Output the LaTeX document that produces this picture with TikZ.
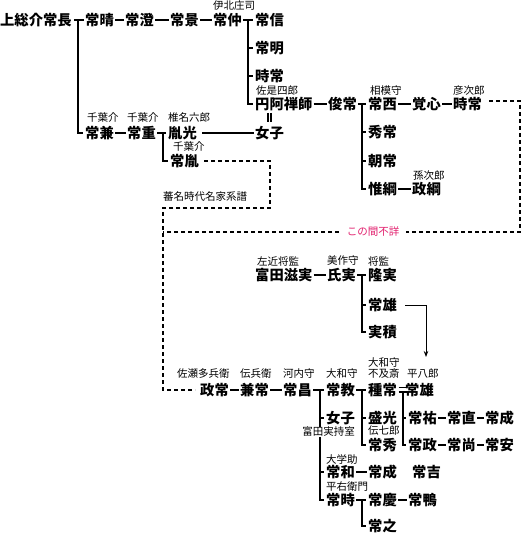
\documentclass[tikz,border=0pt]{standalone}
\usepackage{fontspec}
\newfontfamily\jp{Noto Sans CJK JP}
\usetikzlibrary{arrows.meta}
\definecolor{gappink}{RGB}{226,32,110}

\begin{document}
\begin{tikzpicture}[x=1pt, y=-1pt,
  person/.style={font=\jp\fontsize{14.3}{15}\selectfont\bfseries, inner sep=0pt, anchor=west, text height=11.9pt, text depth=1pt},
  office/.style={font=\jp\fontsize{10.5}{11}\selectfont, inner sep=0pt, anchor=west},
  link/.style={line width=2pt, shorten <=1pt, shorten >=1pt},
  bar/.style={line width=2pt},
  wed/.style={line width=1.1pt},
  gap/.style={line width=2.3pt, dash pattern=on 4pt off 3pt},
  point/.style={line width=0.8pt, -{Stealth[length=6pt, width=4.5pt]}}]
\useasboundingbox (0,0) rectangle (529,537);
% first line: Kazusa-no-suke down to Tsunenaka
\node[person] (nagatsune) at (0,20) {上総介常長};
\node[person] (tsuneharu) at (85,20) {常晴};
\node[person] (tsunesumi) at (125,20) {常澄};
\node[person] (tsunekage) at (170,20) {常景};
\node[person] (tsunenaka) at (213,20) {常仲};
\node[office] (ihoku) at (213,6) {伊北庄司};
\draw[link, shorten <=2pt] (nagatsune) -- (tsuneharu);
\draw[link] (tsuneharu) -- (tsunesumi);
\draw[link] (tsunesumi) -- (tsunekage);
\draw[link] (tsunekage) -- (tsunenaka);
% sons of Tsunenaka
\node[person] (tsunenobu) at (255,20) {常信};
\node[person] (tsuneaki) at (255,48) {常明};
\node[person] (tokitsune) at (255,76) {時常};
\node[person] (enami) at (255,104) {円阿禅師};
\node[office] (sazeshiro) at (256,91) {佐是四郎};
\draw[link, shorten >=2pt] (tsunenaka) -- (tsunenobu);
\draw[bar] ([xshift=-7pt]tsunenobu.west) |- ([xshift=-2pt]enami.west);
\draw[bar] ([xshift=-7pt]tsuneaki.west) -- ([xshift=-2pt]tsuneaki.west);
\draw[bar] ([xshift=-7pt]tokitsune.west) -- ([xshift=-2pt]tokitsune.west);
% Enami Zenji and his line
\node[person] (toshitsune) at (328,104) {俊常};
\node[person] (tsunenishi) at (368,104) {常西};
\node[office] (sagami) at (370,91) {相模守};
\node[person] (kakushin) at (412,104) {覚心};
\node[person] (tokitsuneB) at (453,104) {時常};
\node[office] (hikojiro) at (453,91) {彦次郎};
\node[person] (hidetsune) at (368,132) {秀常};
\node[person] (tomotsune) at (368,161) {朝常};
\node[person] (koretsuna) at (368,189) {惟綱};
\node[person] (masatsuna) at (412,189) {政綱};
\node[office] (magojiro) at (413,176) {孫次郎};
\draw[link] (enami) -- (toshitsune);
\draw[link, shorten >=2pt] (toshitsune) -- (tsunenishi);
\draw[bar] ([xshift=-6pt]tsunenishi.west) |- ([xshift=-2pt]koretsuna.west);
\draw[bar] ([xshift=-6pt]hidetsune.west) -- ([xshift=-2pt]hidetsune.west);
\draw[bar] ([xshift=-6pt]tomotsune.west) -- ([xshift=-2pt]tomotsune.west);
\draw[link] (tsunenishi) -- (kakushin);
\draw[link] (kakushin) -- (tokitsuneB);
\draw[link] (koretsuna) -- (masatsuna);
% Chiba line
\node[person] (tsunekane) at (85,133) {常兼};
\node[office] (chibaA) at (87,118) {千葉介};
\node[person] (tsuneshige) at (127,133) {常重};
\node[office] (chibaB) at (127,118) {千葉介};
\node[person] (tanemitsu) at (168,133) {胤光};
\node[office] (shiina) at (168,118) {椎名六郎};
\node[person] (tsunetane) at (170,161) {常胤};
\node[office] (chibaC) at (173,147) {千葉介};
\node[person] (joshiA) at (255,133) {女子};
\draw[bar] ([xshift=-7pt]tsuneharu.west) |- ([xshift=-2pt]tsunekane.west);
\draw[link] (tsunekane) -- (tsuneshige);
\draw[link, shorten >=2pt] (tsuneshige) -- (tanemitsu);
\draw[bar] ([xshift=-5pt]tanemitsu.west) |- ([xshift=-2pt]tsunetane.west);
\draw[link, shorten <=5pt] (tanemitsu) -- (joshiA);
% marriage mark
\draw[wed] (268,113) -- (268,122) (271,113) -- (271,122);
% Tomita line
\node[person] (tomita) at (255,275) {富田滋実};
\node[office] (sakon) at (257,261) {左近将監};
\node[person] (ujizane) at (327,275) {氏実};
\node[office] (mimasaka) at (327,261) {美作守};
\node[person] (takazane) at (368,275) {隆実};
\node[office] (shogen) at (368,261) {将監};
\node[person] (tsuneoA) at (368,305) {常雄};
\node[person] (sanetsumi) at (368,332) {実積};
\draw[link] (tomita) -- (ujizane);
\draw[link, shorten >=2pt] (ujizane) -- (takazane);
\draw[bar] ([xshift=-6pt]takazane.west) |- ([xshift=-2pt]sanetsumi.west);
\draw[bar] ([xshift=-6pt]tsuneoA.west) -- ([xshift=-2pt]tsuneoA.west);
\coordinate (adoptend) at (426,357);
\draw[point] ([xshift=8pt]tsuneoA.east) -| (adoptend);
% Sase line
\node[person] (masatsune) at (200,390) {政常};
\node[office] (sase) at (177,374) {佐瀬多兵衛};
\node[person] (kanetsune) at (240,390) {兼常};
\node[office] (denbei) at (240,374) {伝兵衛};
\node[person] (tsunemasa) at (283,390) {常昌};
\node[office] (kawachi) at (283,374) {河内守};
\node[person] (tsunenori) at (326,390) {常教};
\node[office] (yamatoA) at (326,374) {大和守};
\node[person] (tanetsune) at (368,390) {種常};
\node[office] (yamatoB) at (368,363) {大和守};
\node[office] (fugyusai) at (368,374) {不及斎};
\node[person] (tsuneoB) at (405,390) {常雄};
\node[office] (heihachiro) at (407,374) {平八郎};
\draw[link] (masatsune) -- (kanetsune);
\draw[link] (kanetsune) -- (tsunemasa);
\draw[link, shorten >=2pt] (tsunemasa) -- (tsunenori);
\draw[link, shorten >=2pt] (tsunenori) -- (tanetsune);
% unknown links (dotted)
\coordinate (cornerA) at (270,208);
\coordinate (cornerB) at (163,390);
\coordinate (cornerC) at (520,232);
\coordinate (cornerD) at (163,232);
\node[office] (hanmei) at (163,197) {蕃名時代名家系譜};
\draw[gap] ([xshift=5pt]tsunetane.east) -| (cornerA) -| (cornerB) -- ([xshift=-5pt]masatsune.west);
\draw[gap] ([xshift=7pt,yshift=3pt]tokitsuneB.east) -| (cornerC) -- (cornerD);
\node[office, anchor=center, fill=white, inner xsep=7pt, text=gappink] (unknown) at (373,232) {この間不詳};
% later generations
\node[person] (joshiB) at (326,418) {女子};
\node[person] (morimitsu) at (368,418) {盛光};
\node[person] (tsunesuke) at (408,418) {常祐};
\node[person] (tsunenao) at (447,418) {常直};
\node[person] (tsunenariA) at (485,418) {常成};
\node[person] (tsunehide) at (368,445) {常秀};
\node[office] (denshichiro) at (368,431) {伝七郎};
\node[person] (tsunemasaB) at (408,445) {常政};
\node[person] (tsunehisa) at (447,445) {常尚};
\node[person] (tsuneyasu) at (485,445) {常安};
\node[person] (tsunekazu) at (326,472) {常和};
\node[office] (daigaku) at (326,459) {大学助};
\node[person] (tsunenariB) at (368,472) {常成};
\node[person] (tsuneyoshi) at (412,472) {常吉};
\node[person] (tsunetoki) at (326,500) {常時};
\node[office] (heiuemon) at (326,487) {平右衛門};
\node[person] (tsunekei) at (368,500) {常慶};
\node[person] (tsunekamo) at (408,500) {常鴨};
\node[person] (tsuneyuki) at (368,526) {常之};
\draw[bar] ([xshift=-6pt]tsunenori.west) |- ([xshift=-2pt]tsunetoki.west);
\draw[bar] ([xshift=-6pt]joshiB.west) -- ([xshift=-2pt]joshiB.west);
\draw[bar] ([xshift=-6pt]tsunekazu.west) -- ([xshift=-2pt]tsunekazu.west);
\node[office, anchor=center, fill=white, inner sep=0.5pt] (tomitawife) at (328.5,432) {富田実持室};
\draw[bar] ([xshift=-6pt]tanetsune.west) |- ([xshift=-2pt]tsunehide.west);
\draw[bar] ([xshift=-6pt]morimitsu.west) -- ([xshift=-2pt]morimitsu.west);
% adoption mark and Tsuneo's sons
\draw[wed] (398.5,387.5) -- (406.5,387.5) (398.5,392) -- (406.5,392);
\coordinate (adopt) at (403,392);
\draw[bar] (adopt) |- ([xshift=-2pt]tsunemasaB.west);
\draw[bar] ([xshift=-5pt]tsunesuke.west) -- ([xshift=-2pt]tsunesuke.west);
\draw[link] (tsunesuke) -- (tsunenao);
\draw[link] (tsunenao) -- (tsunenariA);
\draw[link] (tsunemasaB) -- (tsunehisa);
\draw[link] (tsunehisa) -- (tsuneyasu);
\draw[link] (tsunekazu) -- (tsunenariB);
\draw[link, shorten >=2pt] (tsunetoki) -- (tsunekei);
\draw[bar] ([xshift=-6pt]tsunekei.west) |- ([xshift=-2pt]tsuneyuki.west);
\draw[link] (tsunekei) -- (tsunekamo);
\end{tikzpicture}
\end{document}
